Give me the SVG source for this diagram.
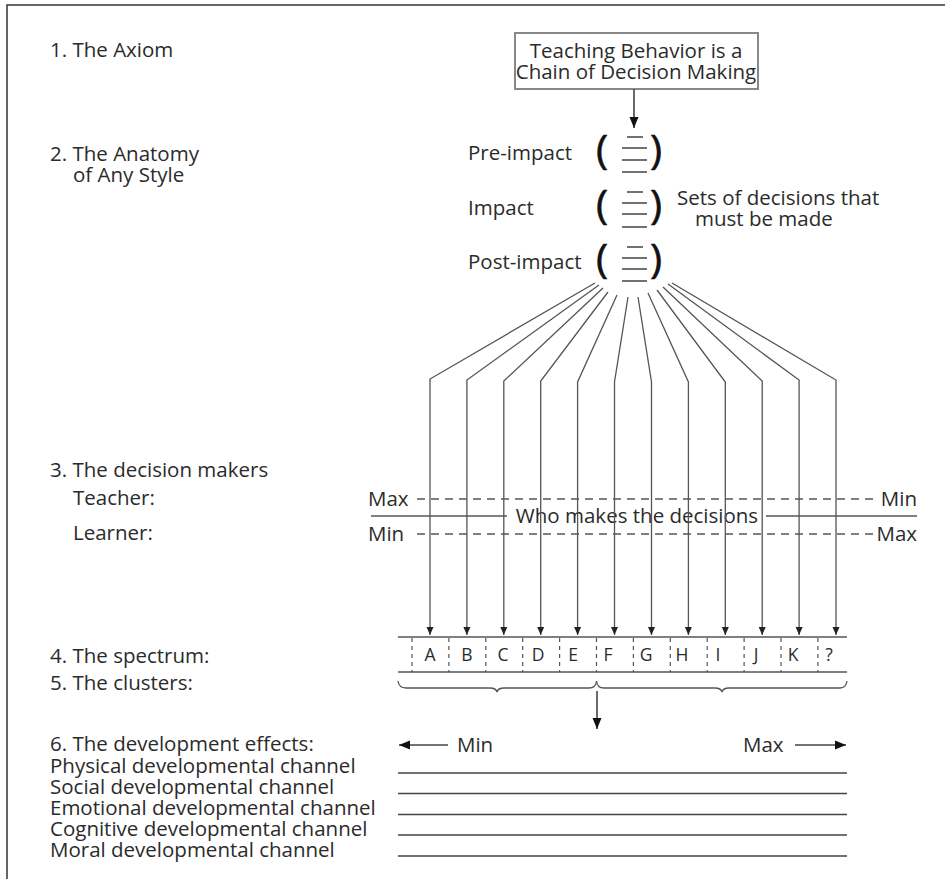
<svg xmlns="http://www.w3.org/2000/svg" width="945" height="879" viewBox="0 0 945 879">
<defs>
<marker id="ah" markerWidth="8" markerHeight="8" refX="8" refY="4" orient="auto" markerUnits="userSpaceOnUse"><path d="M0,0.5 L8,4 L0,7.5 z" fill="#222"/></marker>
<marker id="ahb" markerWidth="11" markerHeight="10" refX="11" refY="5" orient="auto" markerUnits="userSpaceOnUse"><path d="M0,0.5 L11,5 L0,9.5 z" fill="#111"/></marker>
</defs>
<style>
.t{font-family:"Open Sans","Noto Sans",sans-serif;font-size:20.5px;fill:#2b2b2b}
.s{font-size:17.5px}
.m{text-anchor:middle}
.e{text-anchor:end}
.p{font-family:"Open Sans","Noto Sans",sans-serif;font-size:41px;fill:#111;text-anchor:middle;stroke:#111;stroke-width:0.6}
.ln{stroke:#555;stroke-width:1.3;fill:none}
.dl{stroke:#555;stroke-width:1.3;fill:none;stroke-dasharray:8 6}
.sep{stroke:#555;stroke-width:1.2;fill:none;stroke-dasharray:4 4}
.bl{stroke:#444;stroke-width:1.6;fill:none}
.fr{stroke:#333;stroke-width:1.5;fill:none}
</style>
<rect width="945" height="879" fill="#fff"/>
<path class="fr" d="M945,5 L7,5 L7,879"/>

<g id="labels">
<text class="t" x="50" y="57">1. The Axiom</text>
<text class="t" x="50" y="161">2. The Anatomy</text>
<text class="t" x="73" y="182">of Any Style</text>
<text class="t" x="50" y="477">3. The decision makers</text>
<text class="t" x="73" y="505">Teacher:</text>
<text class="t" x="73" y="540">Learner:</text>
<text class="t" x="50" y="663">4. The spectrum:</text>
<text class="t" x="50" y="690">5. The clusters:</text>
<text class="t" x="50" y="751">6. The development effects:</text>
</g>

<g id="axiom">
<rect x="515" y="33" width="243" height="56" fill="#fff" stroke="#888" stroke-width="2"/>
<text class="t m" x="636" y="58">Teaching Behavior is a</text>
<text class="t m" x="636" y="79">Chain of Decision Making</text>
</g>

<g id="anatomy">
<text class="t" x="468" y="160">Pre-impact</text>
<text class="t" x="468" y="215">Impact</text>
<text class="t" x="468" y="269">Post-impact</text>
<text class="p" x="602" y="164">(</text>
<text class="p" x="656" y="164">)</text>
<text class="p" x="602" y="219">(</text>
<text class="p" x="656" y="219">)</text>
<text class="p" x="602" y="273">(</text>
<text class="p" x="656" y="273">)</text>
<path class="bl" d="M627,137 H643 M622,148 H647 M622,160 H647 M622,172 H647 M627,192 H643 M622,203 H647 M622,214 H647 M622,227 H647 M627,247 H643 M622,258 H647 M622,269 H647 M622,281 H647"/>
<text class="t" x="677" y="205">Sets of decisions that</text>
<text class="t" x="695" y="226">must be made</text>
</g>

<g id="decision-makers">
<text class="t" x="368" y="506">Max</text>
<text class="t e" x="917" y="506">Min</text>
<text class="t" x="368" y="541">Min</text>
<text class="t e" x="917" y="541">Max</text>
<path class="dl" d="M417,499 H876 M417,534 H880"/>
<path class="ln" d="M371,516 H507 M766,516 H917"/>
<text class="t m" x="637" y="523">Who makes the decisions</text>
</g>

<g id="spectrum">
<path class="ln" d="M398,637 H847 M398,672 H847"/>
<path class="sep" d="M412,638 V672 M448.9,638 V672 M485.8,638 V672 M522.7,638 V672 M559.6,638 V672 M596.5,638 V672 M633.4,638 V672 M670.3,638 V672 M707.2,638 V672 M744.1,638 V672 M781,638 V672 M817.9,638 V672"/>
<text class="t s m" x="430" y="661">A</text>
<text class="t s m" x="467" y="661">B</text>
<text class="t s m" x="503" y="661">C</text>
<text class="t s m" x="538" y="661">D</text>
<text class="t s m" x="573" y="661">E</text>
<text class="t s m" x="608" y="661">F</text>
<text class="t s m" x="646" y="661">G</text>
<text class="t s m" x="682" y="661">H</text>
<text class="t s m" x="718" y="661">I</text>
<text class="t s m" x="756" y="661">J</text>
<text class="t s m" x="793" y="661">K</text>
<text class="t s m" x="829" y="661">?</text>
</g>

<g id="clusters">
<path class="ln" d="M398,681 Q399,688 406,688 L490,688 Q496,688 497,692 Q498,688 504,688 L589,688 Q596,688 596.5,681"/>
<path class="ln" d="M596.5,681 Q597,688 604,688 L715,688 Q721,688 722,692 Q723,688 729,688 L840,688 Q846,688 847,681"/>
</g>

<g id="development-effects">
<text class="t" x="457" y="752">Min</text>
<text class="t" x="743" y="752">Max</text>
<text class="t" x="50" y="773">Physical developmental channel</text>
<text class="t" x="50" y="794">Social developmental channel</text>
<text class="t" x="50" y="815">Emotional developmental channel</text>
<text class="t" x="50" y="836">Cognitive developmental channel</text>
<text class="t" x="50" y="857">Moral developmental channel</text>
<path class="bl" d="M398,773 H847 M398,793.5 H847 M398,814.5 H847 M398,835 H847 M398,856 H847"/>
</g>

<g id="connectors">
<line class="bl" x1="634" y1="89" x2="634" y2="128" marker-end="url(#ahb)"/>
<polyline class="ln" points="595,283 430,379 430,635" marker-end="url(#ah)"/>
<polyline class="ln" points="599,285 466.9,380 466.9,635" marker-end="url(#ah)"/>
<polyline class="ln" points="603,288 503.8,381 503.8,635" marker-end="url(#ah)"/>
<polyline class="ln" points="608,292 540.7,381 540.7,635" marker-end="url(#ah)"/>
<polyline class="ln" points="617,295 577.6,382 577.6,635" marker-end="url(#ah)"/>
<polyline class="ln" points="628,297 614.5,382 614.5,635" marker-end="url(#ah)"/>
<polyline class="ln" points="638,297 651.5,382 651.5,635" marker-end="url(#ah)"/>
<polyline class="ln" points="648,293 688.4,382 688.4,635" marker-end="url(#ah)"/>
<polyline class="ln" points="657,290 725.3,382 725.3,635" marker-end="url(#ah)"/>
<polyline class="ln" points="663,287 762.2,381 762.2,635" marker-end="url(#ah)"/>
<polyline class="ln" points="668,284 799.1,380 799.1,635" marker-end="url(#ah)"/>
<polyline class="ln" points="672,283 836,380 836,635" marker-end="url(#ah)"/>
<line class="bl" x1="597" y1="691" x2="597" y2="729" marker-end="url(#ahb)"/>
<line class="bl" x1="448" y1="745" x2="399" y2="745" marker-end="url(#ahb)"/>
<line class="bl" x1="795" y1="745" x2="846" y2="745" marker-end="url(#ahb)"/>
</g>
</svg>
